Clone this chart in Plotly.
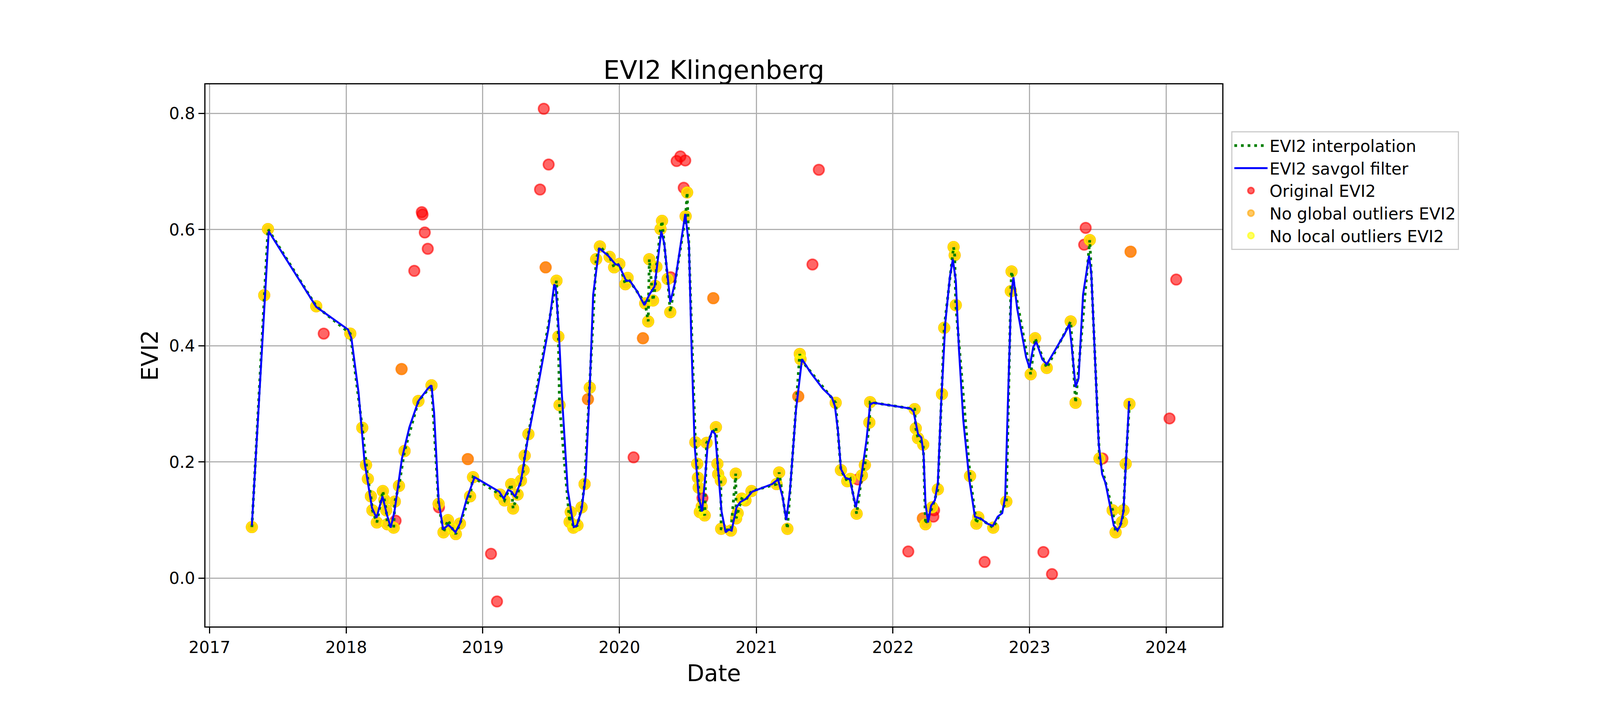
import plotly.graph_objects as go

# Cleaned EVI2 observations (after global and local outlier removal)
clean_dates = [
    "2017-04-24", "2017-05-27", "2017-06-06", "2017-10-13",
    "2018-01-12", "2018-02-13", "2018-02-23", "2018-02-28", "2018-03-08", "2018-03-12",
    "2018-03-24", "2018-04-09", "2018-04-13", "2018-04-18", "2018-04-21", "2018-05-08",
    "2018-05-11", "2018-05-22", "2018-06-06", "2018-07-13", "2018-08-17", "2018-09-05",
    "2018-09-18", "2018-09-30", "2018-10-12", "2018-10-21", "2018-11-01", "2018-11-28",
    "2018-12-06",
    "2019-02-16", "2019-02-28", "2019-03-18", "2019-03-23", "2019-04-04", "2019-04-13",
    "2019-04-20", "2019-04-23", "2019-05-03", "2019-07-17", "2019-07-22", "2019-07-25",
    "2019-08-21", "2019-08-24", "2019-08-31", "2019-09-11", "2019-09-22", "2019-09-30",
    "2019-10-14", "2019-10-31", "2019-11-10", "2019-12-06", "2019-12-18",
    "2020-01-01", "2020-01-17", "2020-01-23", "2020-03-10", "2020-03-18", "2020-03-21",
    "2020-03-31", "2020-04-06", "2020-04-09", "2020-04-20", "2020-04-24", "2020-05-09",
    "2020-05-16", "2020-06-26", "2020-06-30", "2020-07-22", "2020-07-27", "2020-07-29",
    "2020-07-31", "2020-08-03", "2020-08-08", "2020-08-16", "2020-08-21", "2020-09-15",
    "2020-09-19", "2020-09-21", "2020-09-28", "2020-09-29", "2020-10-25", "2020-11-07",
    "2020-11-08", "2020-11-12", "2020-11-23", "2020-12-03", "2020-12-19",
    "2021-02-24", "2021-03-03", "2021-03-25", "2021-04-27", "2021-04-29", "2021-08-01",
    "2021-08-15", "2021-09-01", "2021-09-09", "2021-09-26", "2021-10-10", "2021-10-18",
    "2021-10-30", "2021-11-01",
    "2022-02-28", "2022-03-03", "2022-03-09", "2022-03-23", "2022-03-29", "2022-04-16",
    "2022-05-01", "2022-05-12", "2022-05-18", "2022-06-12", "2022-06-15", "2022-06-18",
    "2022-07-26", "2022-08-12", "2022-08-17", "2022-09-26", "2022-10-31", "2022-11-12",
    "2022-11-14",
    "2023-01-04", "2023-01-16", "2023-02-16", "2023-04-21", "2023-05-04", "2023-06-11",
    "2023-07-07", "2023-08-11", "2023-08-19", "2023-09-05", "2023-09-09", "2023-09-15",
    "2023-09-25",
]
clean_evi2 = [
    0.088, 0.487, 0.601, 0.468,
    0.421, 0.259, 0.195, 0.171, 0.141, 0.117,
    0.096, 0.150, 0.135, 0.117, 0.093, 0.087,
    0.132, 0.159, 0.219, 0.305, 0.332, 0.128,
    0.079, 0.100, 0.085, 0.076, 0.094, 0.141,
    0.174,
    0.144, 0.134, 0.162, 0.120, 0.144, 0.168,
    0.186, 0.211, 0.248, 0.512, 0.416, 0.298,
    0.097, 0.114, 0.087, 0.091, 0.122, 0.162,
    0.328, 0.549, 0.571, 0.553, 0.535,
    0.541, 0.506, 0.517, 0.473, 0.442, 0.549,
    0.478, 0.503, 0.536, 0.601, 0.615, 0.515,
    0.458, 0.623, 0.664, 0.234, 0.197, 0.173,
    0.156, 0.114, 0.123, 0.108, 0.233, 0.260,
    0.197, 0.179, 0.168, 0.085, 0.082, 0.180,
    0.103, 0.112, 0.137, 0.134, 0.150,
    0.162, 0.182, 0.085, 0.386, 0.377, 0.302,
    0.186, 0.167, 0.171, 0.111, 0.177, 0.195,
    0.268, 0.303,
    0.291, 0.258, 0.241, 0.230, 0.093, 0.122,
    0.153, 0.317, 0.431, 0.570, 0.556, 0.470,
    0.176, 0.094, 0.105, 0.087, 0.132, 0.494,
    0.528,
    0.351, 0.413, 0.362, 0.442, 0.302, 0.582,
    0.206, 0.117, 0.079, 0.097, 0.117, 0.197,
    0.300,
]

# Points removed as local outliers
local_out_dates = [
    "2018-05-29", "2018-11-22", "2019-06-18", "2019-10-09", "2020-03-04",
    "2020-09-08", "2021-04-23", "2022-03-22", "2023-09-28",
]
local_out_evi2 = [0.360, 0.205, 0.535, 0.308, 0.413, 0.482, 0.313, 0.103, 0.562]

# Points removed as global outliers
global_out_dates = [
    "2017-11-02", "2018-05-13", "2018-07-02", "2018-07-22", "2018-07-24", "2018-07-30",
    "2018-08-07", "2018-09-06", "2019-01-23", "2019-02-08", "2019-06-03", "2019-06-13",
    "2019-06-26", "2020-02-08", "2020-05-17", "2020-06-02", "2020-06-12", "2020-06-21",
    "2020-06-25", "2020-08-10", "2021-05-31", "2021-06-17", "2021-09-29", "2022-02-11",
    "2022-04-19", "2022-04-21", "2022-09-03", "2023-02-07", "2023-03-02", "2023-05-27",
    "2023-05-31", "2023-07-15", "2024-01-10", "2024-01-28",
]
global_out_evi2 = [
    0.421, 0.099, 0.529, 0.630, 0.626, 0.595,
    0.567, 0.122, 0.042, -0.040, 0.669, 0.808,
    0.712, 0.208, 0.518, 0.718, 0.726, 0.672,
    0.719, 0.138, 0.540, 0.703, 0.170, 0.046,
    0.106, 0.117, 0.028, 0.045, 0.007, 0.574,
    0.603, 0.206, 0.275, 0.514,
]

# Savitzky-Golay smoothed curve
savgol_dates = [
    "2017-04-24", "2017-06-08", "2017-10-13", "2018-01-06", "2018-01-15", "2018-02-03",
    "2018-02-19", "2018-03-11", "2018-03-23", "2018-04-08", "2018-04-20", "2018-04-30",
    "2018-05-10", "2018-05-30", "2018-06-19", "2018-07-13", "2018-08-08", "2018-08-17",
    "2018-08-24", "2018-09-05", "2018-09-17", "2018-10-01", "2018-10-12", "2018-10-20",
    "2018-11-01", "2018-11-18", "2018-12-10",
    "2019-02-14", "2019-02-26", "2019-03-10", "2019-03-19", "2019-03-28", "2019-04-13",
    "2019-05-01", "2019-05-29", "2019-06-25", "2019-07-11", "2019-07-15", "2019-07-23",
    "2019-07-31", "2019-08-16", "2019-09-01", "2019-09-09", "2019-09-22", "2019-10-03",
    "2019-10-14", "2019-10-23", "2019-11-08", "2019-12-02", "2019-12-22", "2019-12-30",
    "2020-01-19", "2020-01-29", "2020-02-17", "2020-03-08", "2020-03-21", "2020-04-04",
    "2020-04-12", "2020-04-22", "2020-04-30", "2020-05-16", "2020-05-28", "2020-06-13",
    "2020-06-25", "2020-07-05", "2020-07-11", "2020-07-20", "2020-07-31", "2020-08-09",
    "2020-08-16", "2020-08-24", "2020-09-05", "2020-09-13", "2020-09-21", "2020-09-30",
    "2020-10-11", "2020-10-19", "2020-10-27", "2020-11-09", "2020-11-19", "2020-12-05",
    "2020-12-21",
    "2021-01-07", "2021-02-12", "2021-02-28", "2021-03-12", "2021-03-22", "2021-04-01",
    "2021-04-17", "2021-05-03", "2021-05-12", "2021-05-27", "2021-06-28", "2021-07-22",
    "2021-07-30", "2021-08-07", "2021-08-15", "2021-08-27", "2021-09-08", "2021-09-24",
    "2021-10-06", "2021-10-22", "2021-11-01", "2021-11-10", "2021-12-20",
    "2022-02-17", "2022-02-25", "2022-03-09", "2022-03-18", "2022-03-24", "2022-03-29",
    "2022-04-05", "2022-04-13", "2022-04-23", "2022-05-01", "2022-05-09", "2022-05-21",
    "2022-06-02", "2022-06-10", "2022-06-18", "2022-06-26", "2022-07-08", "2022-07-24",
    "2022-08-08", "2022-08-25", "2022-09-10", "2022-09-25", "2022-10-08", "2022-10-20",
    "2022-10-28", "2022-11-05", "2022-11-13", "2022-11-19", "2022-11-29", "2022-12-11",
    "2022-12-23",
    "2023-01-01", "2023-01-11", "2023-01-19", "2023-02-04", "2023-02-16", "2023-03-13",
    "2023-04-06", "2023-04-17", "2023-04-23", "2023-05-04", "2023-05-12", "2023-05-24",
    "2023-06-09", "2023-06-15", "2023-06-24", "2023-07-05", "2023-07-14", "2023-07-23",
    "2023-08-03", "2023-08-14", "2023-08-24", "2023-09-01", "2023-09-09", "2023-09-16",
    "2023-09-24",
]
savgol_evi2 = [
    0.091, 0.597, 0.467, 0.428, 0.413, 0.320,
    0.200, 0.121, 0.104, 0.141, 0.109, 0.087,
    0.115, 0.206, 0.260, 0.305, 0.327, 0.332,
    0.284, 0.134, 0.084, 0.092, 0.085, 0.079,
    0.094, 0.134, 0.174,
    0.149, 0.137, 0.152, 0.149, 0.140, 0.167,
    0.239, 0.332, 0.428, 0.506, 0.500, 0.428,
    0.320, 0.152, 0.088, 0.090, 0.118, 0.176,
    0.332, 0.488, 0.568, 0.555, 0.540, 0.540,
    0.512, 0.512, 0.494, 0.470, 0.488, 0.502,
    0.543, 0.597, 0.576, 0.475, 0.507, 0.573,
    0.627, 0.573, 0.416, 0.230, 0.140, 0.115,
    0.164, 0.230, 0.254, 0.248, 0.188, 0.115,
    0.079, 0.084, 0.082, 0.122, 0.131, 0.137,
    0.149,
    0.153, 0.162, 0.170, 0.140, 0.100, 0.152,
    0.290, 0.377, 0.368, 0.353, 0.326, 0.311,
    0.296, 0.254, 0.188, 0.173, 0.170, 0.122,
    0.164, 0.236, 0.299, 0.302, 0.298,
    0.292, 0.287, 0.248, 0.242, 0.212, 0.128,
    0.096, 0.125, 0.134, 0.164, 0.290, 0.440,
    0.518, 0.549, 0.512, 0.398, 0.272, 0.170,
    0.106, 0.102, 0.094, 0.090, 0.106, 0.112,
    0.140, 0.320, 0.488, 0.518, 0.464, 0.422,
    0.380,
    0.362, 0.398, 0.407, 0.377, 0.368, 0.395,
    0.422, 0.437, 0.404, 0.329, 0.344, 0.488,
    0.555, 0.525, 0.398, 0.230, 0.179, 0.164,
    0.128, 0.091, 0.082, 0.091, 0.115, 0.206,
    0.305,
]

# Build the three point layers
no_global = sorted(zip(clean_dates + local_out_dates, clean_evi2 + local_out_evi2))
original = sorted(zip(clean_dates + local_out_dates + global_out_dates,
                      clean_evi2 + local_out_evi2 + global_out_evi2))

fig = go.Figure()


def add_points(points, name, rgba, rank):
    fig.add_trace(go.Scatter(
        x=[p[0] for p in points],
        y=[p[1] for p in points],
        mode='markers',
        name=name,
        legendrank=rank,
        marker=dict(size=27, color=rgba, line=dict(color=rgba, width=4)),
    ))


add_points(original, 'Original EVI2', 'rgba(255,0,0,0.6)', 3)
add_points(no_global, 'No global outliers EVI2', 'rgba(255,165,0,0.6)', 4)
add_points(list(zip(clean_dates, clean_evi2)), 'No local outliers EVI2', 'rgba(255,255,0,0.6)', 5)

fig.add_trace(go.Scatter(
    x=clean_dates, y=clean_evi2, mode='lines', name='EVI2 interpolation',
    legendrank=1,
    line=dict(color='green', width=7, dash='7px,10px'),
))
fig.add_trace(go.Scatter(
    x=savgol_dates, y=savgol_evi2, mode='lines', name='EVI2 savgol filter',
    legendrank=2,
    line=dict(color='blue', width=5),
))

axis_style = dict(
    showgrid=True, gridcolor='#b0b0b0', gridwidth=3,
    showline=True, linecolor='black', linewidth=3, mirror=True,
    ticks='outside', ticklen=15, tickwidth=3, tickcolor='black',
    tickfont=dict(size=42), zeroline=False, automargin=False,
)

fig.update_layout(
    width=4200, height=1800,
    margin=dict(l=518, r=1079, t=208, b=204),
    paper_bgcolor='white', plot_bgcolor='white',
    font=dict(family='DejaVu Sans', color='black', size=42),
    title=dict(text='EVI2 Klingenberg', font=dict(size=66),
               x=0.5, xref='paper', xanchor='center',
               y=1 - 194 / 1800, yref='container', yanchor='bottom'),
    xaxis=dict(type='date', range=['2016-12-21', '2024-05-30'],
               tick0='2017-01-01', dtick='M12', tickformat='%Y',
               title=dict(text='Date', font=dict(size=58), standoff=22),
               **axis_style),
    yaxis=dict(range=[-0.083, 0.850], tick0=0, dtick=0.2, tickformat='.1f',
               title=dict(text='EVI2', font=dict(size=58), standoff=10),
               **axis_style),
    legend=dict(x=1.0088, y=0.9135, xanchor='left', yanchor='top',
                font=dict(size=42), bgcolor='rgba(255,255,255,0.8)',
                bordercolor='#cccccc', borderwidth=3, itemwidth=85),
    showlegend=True,
)

fig.write_html("out.html")
